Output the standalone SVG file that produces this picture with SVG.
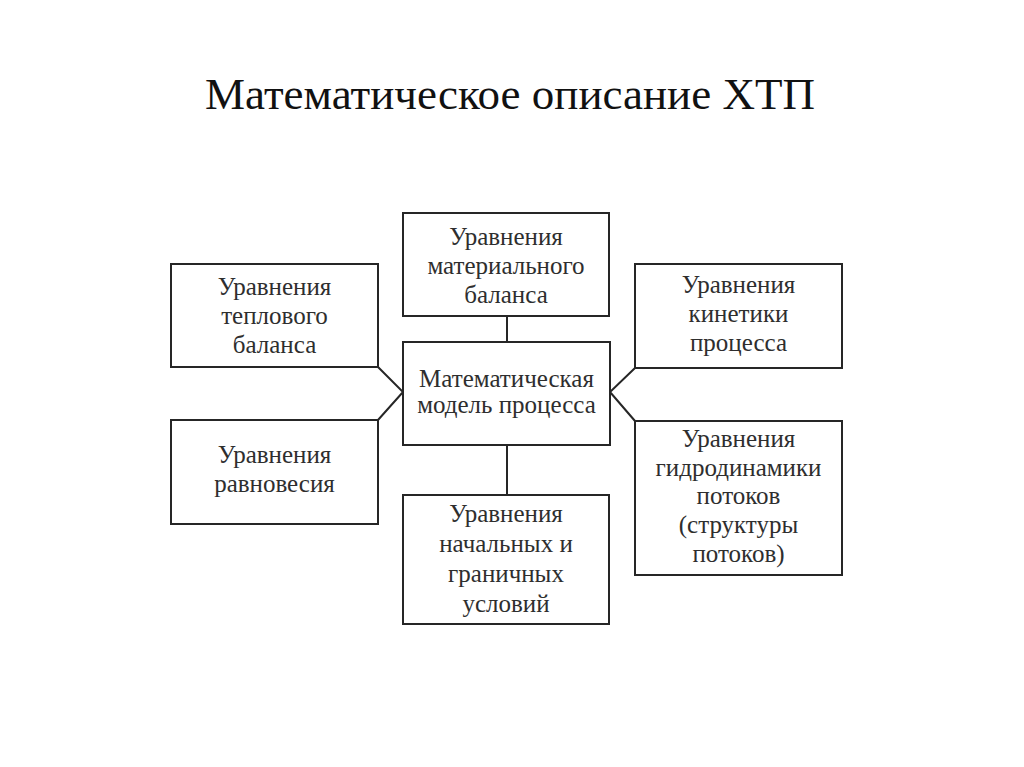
<svg xmlns="http://www.w3.org/2000/svg" width="1024" height="767" viewBox="0 0 1024 767">
<style>
.box{fill:#fff;stroke:#262626;stroke-width:2}
.t{font-family:"Liberation Serif","Times New Roman",serif;font-size:25px;fill:#2e2e2e;text-anchor:middle}
.title{font-family:"Liberation Serif","Times New Roman",serif;font-size:45px;fill:#111;text-anchor:middle}
.c{stroke:#262626;stroke-width:2;fill:none}
</style>
<rect width="1024" height="767" fill="#fff"/>
<text class="title" x="510" y="109">Математическое описание ХТП</text>
<g id="connectors">
<line class="c" x1="507" y1="316" x2="507" y2="342"/>
<line class="c" x1="507" y1="445" x2="507" y2="495"/>
<polyline class="c" points="378,367 403,392 378,420"/>
<polyline class="c" points="635,368 610,392 635,421"/>
</g>
<g id="n_material">
<rect class="box" x="403" y="213" width="206" height="103"/>
<text class="t" x="506" y="245">Уравнения</text>
<text class="t" x="506" y="274">материального</text>
<text class="t" x="506" y="303">баланса</text>
</g>
<g id="n_heat">
<rect class="box" x="171" y="264" width="207" height="103"/>
<text class="t" x="274.5" y="295">Уравнения</text>
<text class="t" x="274.5" y="324">теплового</text>
<text class="t" x="274.5" y="353">баланса</text>
</g>
<g id="n_model">
<rect class="box" x="403" y="342" width="207" height="103"/>
<text class="t" x="506.5" y="387">Математическая</text>
<text class="t" x="506.5" y="413">модель процесса</text>
</g>
<g id="n_equilibrium">
<rect class="box" x="171" y="420" width="207" height="104"/>
<text class="t" x="274.5" y="463">Уравнения</text>
<text class="t" x="274.5" y="492">равновесия</text>
</g>
<g id="n_initial">
<rect class="box" x="403" y="495" width="206" height="129"/>
<text class="t" x="506" y="522">Уравнения</text>
<text class="t" x="506" y="552">начальных и</text>
<text class="t" x="506" y="582">граничных</text>
<text class="t" x="506" y="612">условий</text>
</g>
<g id="n_kinetics">
<rect class="box" x="635" y="264" width="207" height="104"/>
<text class="t" x="738.5" y="293">Уравнения</text>
<text class="t" x="738.5" y="322">кинетики</text>
<text class="t" x="738.5" y="351">процесса</text>
</g>
<g id="n_hydro">
<rect class="box" x="635" y="421" width="207" height="154"/>
<text class="t" x="738.5" y="447">Уравнения</text>
<text class="t" x="738.5" y="476">гидродинамики</text>
<text class="t" x="738.5" y="504">потоков</text>
<text class="t" x="738.5" y="533">(структуры</text>
<text class="t" x="738.5" y="562">потоков)</text>
</g>
</svg>
